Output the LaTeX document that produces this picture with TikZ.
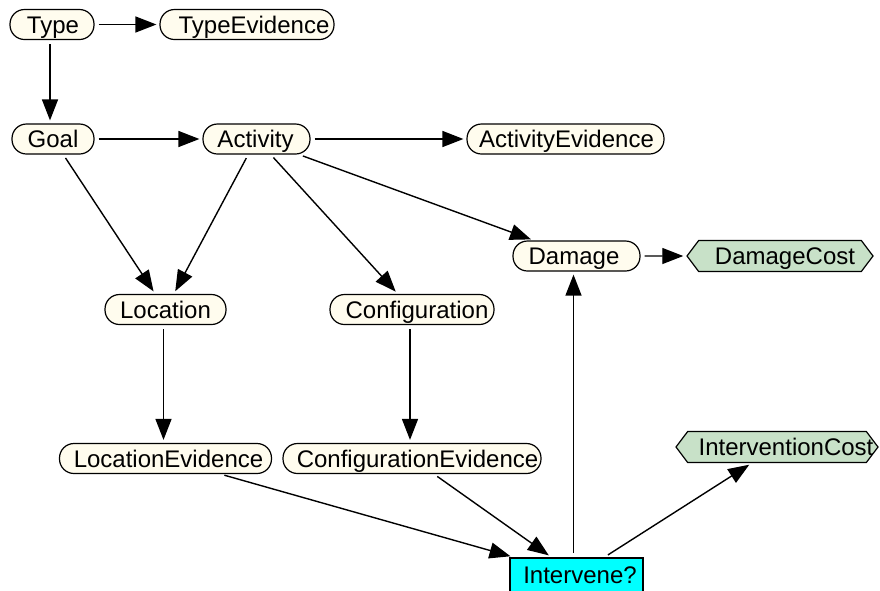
\documentclass[tikz,border=0pt]{standalone}
\usepackage{fontspec}
\setmainfont{Liberation Sans}
\usetikzlibrary{arrows.meta,shapes.symbols}
\definecolor{cream}{RGB}{255,252,238}
\definecolor{costgreen}{RGB}{200,225,200}
\definecolor{decis}{RGB}{0,255,255}
\tikzset{
  lbl/.style={font=\fontsize{24}{27}\selectfont, text height=17pt, text depth=0pt},
  tright/.style={execute at begin node={\kern#1}},
  tleft/.style={execute at end node={\kern#1}},
  chance/.style={lbl, draw=black, line width=1.2pt, fill=cream, rounded corners=14.5pt,
    minimum height=30pt, inner sep=0pt},
  util/.style={lbl, signal, signal to=west and east, signal pointer angle=106,
    draw=black, line width=1.2pt, fill=costgreen, minimum height=31pt, inner sep=0pt},
  decision/.style={lbl, rectangle, draw=black, line width=1.8pt, fill=decis,
    minimum height=34pt, inner sep=0pt},
  link/.style={line width=1.4pt, -{Triangle[length=21pt,width=16pt]},
    shorten <=4pt, shorten >=3pt}
}
\begin{document}
\begin{tikzpicture}[x=1pt,y=-1pt]
\clip (0,0) rectangle (880,590);
\useasboundingbox (0,0) rectangle (880,590);
\fill[white] (0,0) rectangle (880,590);
\node[chance, minimum width=84pt, tright=2pt] (type) at (52,24.5) {Type};
\node[chance, minimum width=174pt, tright=14pt] (typeev) at (247,24.5) {TypeEvidence};
\node[chance, minimum width=82pt] (goal) at (53,139) {Goal};
\node[chance, minimum width=107pt, tleft=2pt] (act) at (256.5,139) {Activity};
\node[chance, minimum width=197pt, tright=2pt] (actev) at (565.5,139) {ActivityEvidence};
\node[chance, minimum width=127pt, tleft=5pt] (dam) at (576.5,256) {Damage};
\node[util, minimum width=186pt, tright=10pt] (damcost) at (780,256) {DamageCost};
\node[chance, minimum width=121pt] (loc) at (165.5,309.5) {Location};
\node[chance, minimum width=164pt, tright=10pt] (conf) at (412,309.5) {Configuration};
\node[chance, minimum width=212pt, tright=6pt] (locev) at (165.5,458.5) {LocationEvidence};
\node[chance, minimum width=258pt, tright=11pt] (confev) at (412,458.5) {ConfigurationEvidence};
\node[util, minimum width=202pt,
  label={[lbl, inner sep=0pt, xshift=9pt]center:InterventionCost}] (intcost) at (777,447) {};
\node[decision, minimum width=133pt, tright=7pt] (interv) at (576.5,575) {Intervene?};

\draw[link] (type) -- (typeev);
\draw[link] ([xshift=-2pt]type.south) -- ([xshift=-3pt]goal.north);
\draw[link] (goal) -- (act);
\draw[link] (act) -- (actev);
\draw[link] (goal) -- (loc);
\draw[link] (act) -- (loc);
\draw[link] (act) -- (conf);
\draw[link] (act) -- (dam);
\draw[link] ([xshift=-2pt]loc.south) -- ([xshift=-2pt]locev.north);
\draw[link] ([xshift=-2pt]conf.south) -- ([xshift=-2pt]confev.north);
\draw[link] (dam) -- (damcost);
\draw[link] (locev) -- (interv);
\draw[link] (confev) -- (interv);
\draw[link] ([xshift=-3pt]interv.north) -- ([xshift=-3pt]dam.south);
\draw[link] (interv) -- (intcost);
\end{tikzpicture}
\end{document}
